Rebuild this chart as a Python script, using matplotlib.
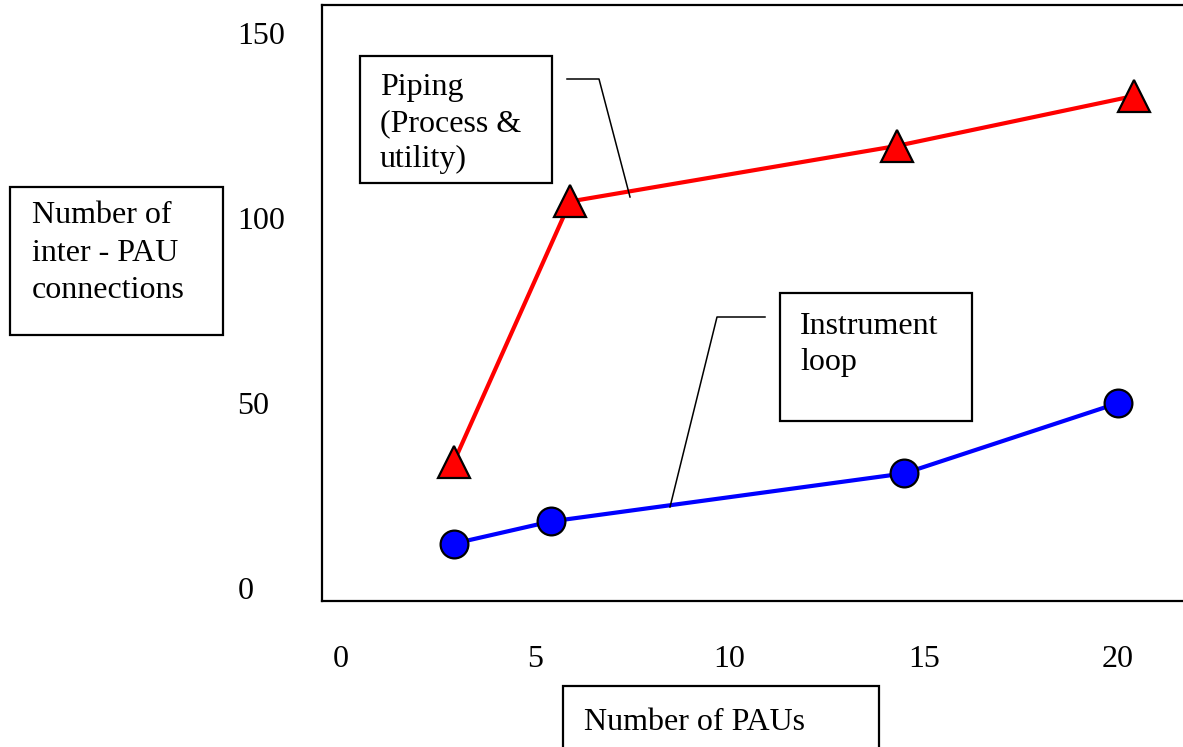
import matplotlib.pyplot as plt
from matplotlib.patches import Rectangle
from matplotlib.lines import Line2D

plt.rcParams['font.family'] = ['Liberation Serif', 'DejaVu Serif']

# data
piping_x = [2.9, 5.9, 14.3, 20.4]
piping_y = [34, 104.5, 119.5, 133]
instr_x = [2.9, 5.4, 14.5, 20.0]
instr_y = [12, 18, 31, 50]

x_ticks = [0, 5, 10, 15, 20]
y_ticks = [0, 50, 100, 150]

FS = 23
W, H = 1183, 747
fig = plt.figure(figsize=(W / 100, H / 100), dpi=100)


def fx(px):
    return px / W


def fy(py):
    return 1 - py / H


# axes box in pixel terms
ax = fig.add_axes([fx(322), fy(601), 1 - fx(322) + 0.01, fy(5) - fy(601)])
ax.set_xlim(-0.49, 21.67 + 0.01 * W / 38.85)
ax.set_ylim(-3.5, 157.6)

ax.plot(piping_x, piping_y, color='#ff0000', lw=3, marker='^', ms=23,
        mfc='#ff0000', mec='black', mew=1.6, zorder=3)
ax.plot(instr_x, instr_y, color='#0000ff', lw=3, marker='o', ms=20,
        mfc='#0000ff', mec='black', mew=1.6, zorder=3)

ax.set_xticks(x_ticks)
ax.set_yticks(y_ticks)
ax.tick_params(axis='both', length=0, labelsize=FS)
ax.tick_params(axis='x', pad=32)
ax.tick_params(axis='y', pad=61)
for lab in ax.get_yticklabels():
    lab.set_horizontalalignment('left')
for side in ['left', 'top', 'bottom']:
    ax.spines[side].set_linewidth(1.6)
ax.spines['right'].set_visible(False)


def box(x0, y0, x1, y1):
    fig.patches.append(Rectangle((fx(x0), fy(y1)), fx(x1) - fx(x0), fy(y0) - fy(y1),
                                 transform=fig.transFigure, fill=False,
                                 ec='black', lw=1.6, zorder=5))


def lines_of_text(x, baselines, texts):
    for b, t in zip(baselines, texts):
        fig.text(fx(x), fy(b), t, fontsize=FS, ha='left', va='baseline', zorder=6)


def leader(pts):
    fig.lines.append(Line2D([fx(p[0]) for p in pts], [fy(p[1]) for p in pts],
                            transform=fig.transFigure, color='black', lw=1.1, zorder=4))


# y-axis title box
box(10, 187, 223, 335)
lines_of_text(32, [223, 261, 298], ['Number of', 'inter - PAU', 'connections'])

# x-axis title box
box(563, 686, 879, 760)
lines_of_text(584, [730], ['Number of PAUs'])

# series labels
box(360, 56, 552, 183)
lines_of_text(380, [95, 131, 167], ['Piping', '(Process &', 'utility)'])
leader([(567, 79), (599, 79), (630, 197)])

box(780, 293, 972, 421)
lines_of_text(800, [334, 370], ['Instrument', 'loop'])
leader([(765, 317), (717, 317), (670, 507)])

fig.savefig('out.png', dpi=100)
